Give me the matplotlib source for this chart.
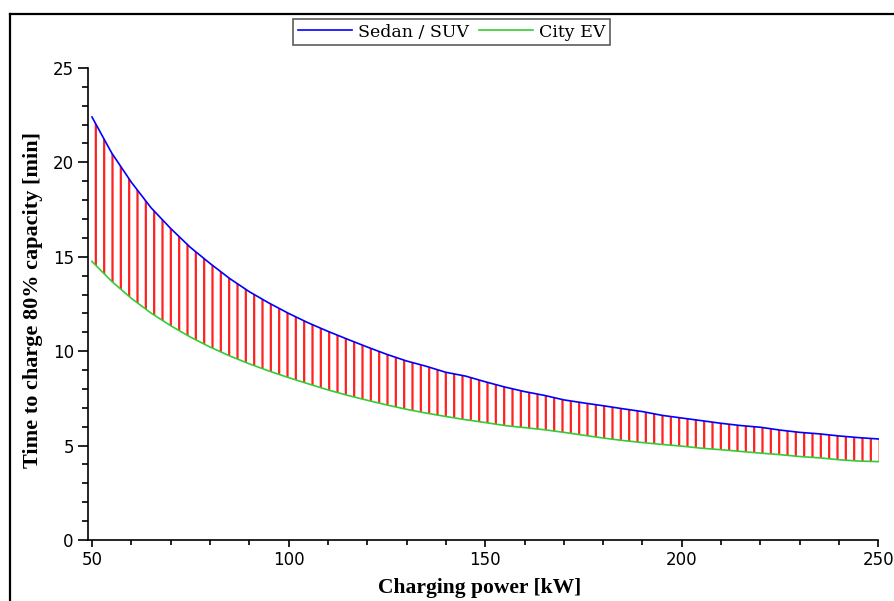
import matplotlib
matplotlib.use("Agg")
import matplotlib.pyplot as plt
from matplotlib.lines import Line2D
from matplotlib.ticker import MultipleLocator

# charging power [kW]
power = [50, 55, 60, 65, 70, 75, 80, 85, 90, 95, 100, 105, 110, 115, 120, 125, 130,
         135, 140, 145, 150, 155, 160, 165, 170, 175, 180, 185, 190, 195, 200, 205,
         210, 215, 220, 225, 230, 235, 240, 245, 250]

# time to charge 80% [min]
sedan_suv = [22.4, 20.5, 18.95, 17.6, 16.5, 15.5, 14.65, 13.85, 13.15, 12.55, 12.0,
             11.5, 11.05, 10.63, 10.22, 9.83, 9.48, 9.2, 8.88, 8.68, 8.38, 8.1, 7.86,
             7.66, 7.42, 7.26, 7.11, 6.95, 6.8, 6.6, 6.46, 6.32, 6.18, 6.06, 5.97,
             5.82, 5.7, 5.62, 5.51, 5.42, 5.35]
city_ev = [14.75, 13.7, 12.8, 12.02, 11.35, 10.75, 10.22, 9.75, 9.33, 8.95, 8.6,
           8.27, 7.95, 7.66, 7.4, 7.15, 6.92, 6.72, 6.54, 6.37, 6.22, 6.06, 5.95,
           5.84, 5.7, 5.55, 5.4, 5.27, 5.16, 5.06, 4.97, 4.86, 4.78, 4.69, 4.6,
           4.52, 4.42, 4.35, 4.25, 4.18, 4.15]

plt.rcParams["hatch.linewidth"] = 1.6

fig = plt.figure(figsize=(8.94, 6.01), dpi=100)
ax = fig.add_axes([0.0984, 0.1015, 0.8846, 0.7855])

# red vertical strokes between the two curves
ax.fill_between(power, city_ev, sedan_suv, facecolor="none", edgecolor="#ff2020",
                hatch="||", linewidth=0)
ax.plot(power, sedan_suv, color="#0000ff", lw=1.2, label="Sedan / SUV")
ax.plot(power, city_ev, color="#33cc33", lw=1.2, label="City EV")

ax.set_xlim(48.98, 250.1)
ax.set_ylim(0, 25)
ax.spines["top"].set_visible(False)
ax.spines["right"].set_visible(False)
ax.spines["left"].set_bounds(0, 25)
ax.spines["bottom"].set_bounds(48.98, 250)
for s in ("left", "bottom"):
    ax.spines[s].set_linewidth(1.2)

ax.xaxis.set_major_locator(MultipleLocator(50))
ax.xaxis.set_minor_locator(MultipleLocator(10))
ax.yaxis.set_major_locator(MultipleLocator(5))
ax.yaxis.set_minor_locator(MultipleLocator(1))
ax.tick_params(axis="x", which="major", length=5, width=1.2, labelsize=12, pad=3)
ax.tick_params(axis="x", which="minor", length=3.6, width=1.2)
ax.tick_params(axis="y", which="major", length=7.2, width=1.2, labelsize=12, pad=3)
ax.tick_params(axis="y", which="minor", length=4.5, width=1.2)

fig.text(0.537, 0.022, "Charging power [kW]", ha="center", va="center",
         family="Liberation Serif", weight="bold", fontsize=15.5)
fig.text(0.037, 0.5, "Time to charge 80% capacity [min]", ha="center", va="center",
         rotation=90, family="Liberation Serif", weight="bold", fontsize=16)

leg = fig.legend(loc="upper center", bbox_to_anchor=(0.505, 0.968), ncol=2,
                 prop={"family": "DejaVu Serif", "size": 12.5}, frameon=True,
                 fancybox=False, shadow=False, handlelength=3.1, handletextpad=0.35,
                 columnspacing=0.6, borderpad=0.25, borderaxespad=0)
leg.get_frame().set_edgecolor("#333333")
leg.get_frame().set_linewidth(1.2)

# outer frame (only left and top edges fall inside the picture)
fig.add_artist(Line2D([0.0112, 0.0112], [-0.1, 1 - 14.3 / 601], transform=fig.transFigure,
                      color="black", lw=1.6))
fig.add_artist(Line2D([0.0112, 1.1], [1 - 14.3 / 601, 1 - 14.3 / 601], transform=fig.transFigure,
                      color="black", lw=1.6))

fig.savefig("out.png", dpi=100)
